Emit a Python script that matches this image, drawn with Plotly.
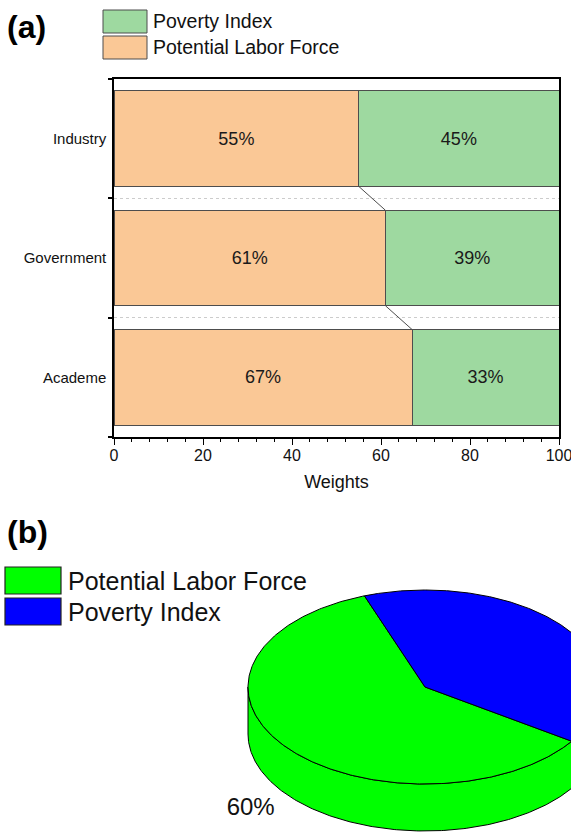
import numpy as np
import plotly.graph_objects as go

W, H = 571, 834

# ---- panel (a): stacked weights per sector ----
sectors = ["Academe", "Government", "Industry"]
labor_force = [67, 61, 55]
poverty_index = [33, 39, 45]
legend_a = ["Poverty Index", "Potential Labor Force"]
x_ticks = [0, 20, 40, 60, 80, 100]

# ---- panel (b): overall shares ----
pie_labels = ["Potential Labor Force", "Poverty Index"]
pie_values = [60, 40]

ORANGE = "#FAC896"
GREEN = "#9ED9A0"
EDGE = "#4d4d4d"
PIE_COLORS = ["#00FF00", "#0000FF"]
FONT = "Arial, Liberation Sans, sans-serif"
BAR_W = 0.8


def fx(px):
    return px / W


def fy(py):
    return 1 - py / H


fig = go.Figure()

# stacked horizontal bars
fig.add_trace(go.Bar(
    y=sectors, x=labor_force, orientation="h", width=BAR_W,
    marker=dict(color=ORANGE, line=dict(color=EDGE, width=1)),
    texttemplate="%{x}%", textposition="inside", insidetextanchor="middle",
    textangle=0, constraintext="none",
    textfont=dict(family=FONT, size=18, color="#1a1a1a"),
    name=legend_a[1], showlegend=False, xaxis="x", yaxis="y",
))
fig.add_trace(go.Bar(
    y=sectors, x=poverty_index, orientation="h", width=BAR_W,
    marker=dict(color=GREEN, line=dict(color=EDGE, width=1)),
    texttemplate="%{x}%", textposition="inside", insidetextanchor="middle",
    textangle=0, constraintext="none",
    textfont=dict(family=FONT, size=18, color="#1a1a1a"),
    name=legend_a[0], showlegend=False, xaxis="x", yaxis="y",
))

shapes = []
# connector lines between the split points of neighbouring bars
for i in range(len(sectors) - 1):
    shapes.append(dict(
        type="line", xref="x", yref="y", layer="above",
        x0=labor_force[i + 1], y0=(i + 1) - BAR_W / 2,
        x1=labor_force[i], y1=i + BAR_W / 2,
        line=dict(color=EDGE, width=1),
    ))

# ---- 3D pie for panel (b) ----
CX, CY, RA, RB, DEPTH, START = 425, 687, 177, 97, 47, 110.0


def ellipse(theta_deg, dy=0.0, k=1.0):
    t = np.radians(theta_deg)
    return CX + k * RA * np.cos(t), CY - k * RB * np.sin(t) + dy


total = float(sum(pie_values))
bounds = []
a0 = START
for v in pie_values:
    a1 = a0 + 360.0 * v / total
    bounds.append((a0, a1))
    a0 = a1

# front side walls (visible where the rim faces the viewer)
for (t0, t1), col in zip(bounds, PIE_COLORS):
    for base in (180.0, 540.0):
        s0, s1 = max(t0, base), min(t1, base + 180.0)
        if s1 <= s0:
            continue
        th = np.linspace(s0, s1, 200)
        xt, yt = ellipse(th)
        xb, yb = ellipse(th[::-1], dy=DEPTH)
        fig.add_trace(go.Scatter(
            x=np.concatenate([xt, xb, xt[:1]]), y=np.concatenate([yt, yb, yt[:1]]),
            mode="lines", fill="toself", fillcolor=col,
            line=dict(color="black", width=1),
            xaxis="x2", yaxis="y2", showlegend=False, hoverinfo="skip",
        ))

# top faces
for (t0, t1), col in zip(bounds, PIE_COLORS):
    th = np.linspace(t0, t1, 300)
    xa, ya = ellipse(th)
    fig.add_trace(go.Scatter(
        x=np.concatenate([[CX], xa, [CX]]), y=np.concatenate([[CY], ya, [CY]]),
        mode="lines", fill="toself", fillcolor=col,
        line=dict(color="black", width=1),
        xaxis="x2", yaxis="y2", showlegend=False, hoverinfo="skip",
    ))

# percentage labels outside each slice (only those that land inside the view)
lx, ly, lt = [], [], []
for (t0, t1), v in zip(bounds, pie_values):
    m = (t0 + t1) / 2
    front = np.sin(np.radians(m)) < 0
    x, y = ellipse(m, dy=DEPTH if front else 0.0, k=1.25)
    if 30 <= x <= W - 30:
        lx.append(x)
        ly.append(y)
        lt.append(f"{round(100 * v / total)}%")
fig.add_trace(go.Scatter(
    x=lx, y=ly, mode="text", text=lt,
    textfont=dict(family=FONT, size=24, color="#111111"),
    cliponaxis=True, xaxis="x2", yaxis="y2", showlegend=False, hoverinfo="skip",
))

# ---- hand-drawn legends ----
annotations = []
legend_a_colors = [GREEN, ORANGE]
for j, (name, col) in enumerate(zip(legend_a, legend_a_colors)):
    top = 10 + 26 * j
    shapes.append(dict(type="rect", xref="paper", yref="paper",
                       x0=fx(103), x1=fx(147), y0=fy(top), y1=fy(top + 23),
                       fillcolor=col, line=dict(color=EDGE, width=1)))
    annotations.append(dict(text=name, xref="paper", yref="paper",
                            x=fx(151), y=fy(top + 11.5), xanchor="left", yanchor="middle",
                            showarrow=False, font=dict(family=FONT, size=19.5, color="#111111")))

for j, (name, col) in enumerate(zip(pie_labels, PIE_COLORS)):
    top = 567 + 31 * j
    shapes.append(dict(type="rect", xref="paper", yref="paper",
                       x0=fx(5), x1=fx(61), y0=fy(top), y1=fy(top + 27),
                       fillcolor=col, line=dict(color="#222222", width=1.2)))
    annotations.append(dict(text=name, xref="paper", yref="paper",
                            x=fx(66), y=fy(top + 13.5), xanchor="left", yanchor="middle",
                            showarrow=False, font=dict(family=FONT, size=25, color="#111111")))

for tag, yc in (("(a)", 27), ("(b)", 532)):
    annotations.append(dict(text=f"<b>{tag}</b>", xref="paper", yref="paper",
                            x=fx(5), y=fy(yc), xanchor="left", yanchor="middle",
                            showarrow=False, font=dict(family=FONT, size=32, color="black")))

fig.update_layout(
    width=W, height=H,
    margin=dict(l=0, r=0, t=0, b=0, autoexpand=False),
    paper_bgcolor="white", plot_bgcolor="white",
    barmode="stack", bargap=0.2,
    font=dict(family=FONT, color="#111111"),
    showlegend=False,
    shapes=shapes, annotations=annotations,
    xaxis=dict(
        domain=[fx(114), fx(559)], anchor="y", range=[0, 100], automargin=False,
        tickvals=x_ticks, ticks="outside", ticklen=6, tickwidth=1.2, tickcolor="black",
        minor=dict(dtick=4, ticks="outside", ticklen=3, tickwidth=1, tickcolor="black"),
        showline=True, linecolor="black", linewidth=1.5, mirror=True,
        showgrid=False, zeroline=False, ticklabeloverflow="allow",
        ticklabelstandoff=-3,
        tickfont=dict(family=FONT, size=16, color="#111111"),
        title=dict(text="Weights", font=dict(family=FONT, size=18, color="#111111"), standoff=12),
    ),
    yaxis=dict(
        domain=[fy(437), fy(79)], anchor="x", type="category", automargin=False,
        categoryorder="array", categoryarray=sectors, range=[-0.5, len(sectors) - 0.5],
        tickson="boundaries", ticks="outside", ticklen=4, tickwidth=1.5, tickcolor="black",
        showgrid=True, gridcolor="#cccccc", gridwidth=1, griddash="dot",
        showline=True, linecolor="black", linewidth=1.5, mirror=True,
        ticklabelstandoff=3,
        tickfont=dict(family=FONT, size=15, color="#111111"),
    ),
    xaxis2=dict(domain=[0, 1], anchor="y2", range=[0, W], visible=False, fixedrange=True,
                automargin=False),
    yaxis2=dict(domain=[0, fy(560)], anchor="x2", range=[H, 560], visible=False, fixedrange=True,
                automargin=False),
)

# keep the page exactly one figure wide: clip anything past the right edge
clip_js = (
    "document.documentElement.style.overflow='hidden';"
    "document.body.style.overflow='hidden';"
    "document.body.style.margin='0';"
    "var d=document.getElementById('{plot_id}');"
    "d.style.overflow='hidden';"
)
fig.write_html("out.html", post_script=clip_js)
